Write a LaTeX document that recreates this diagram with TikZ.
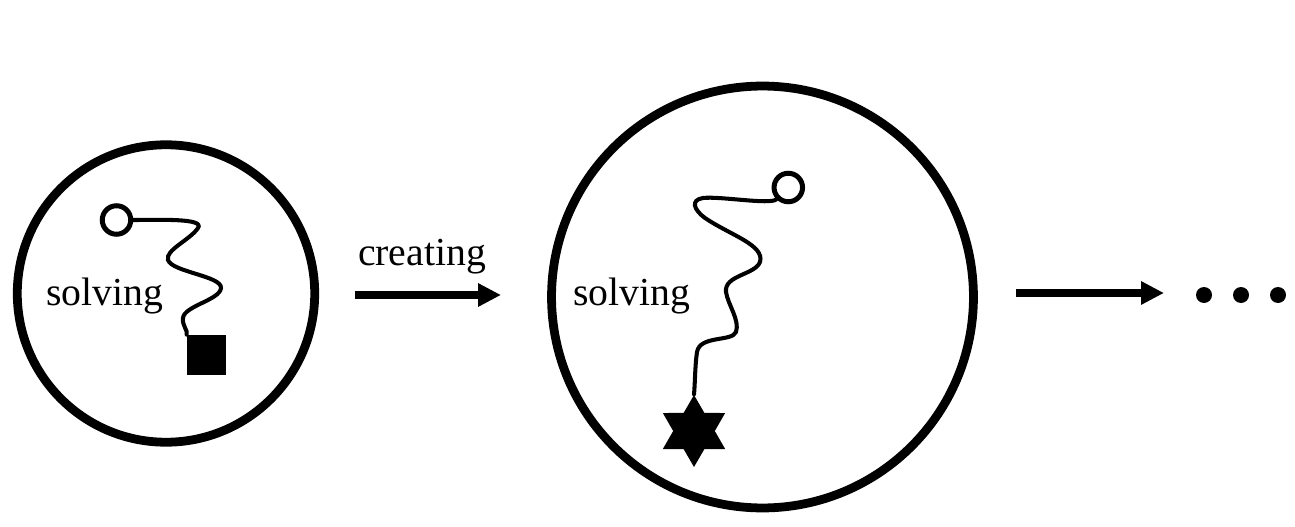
\documentclass[tikz,border=0pt]{standalone}
\usepackage{fontspec}
\setmainfont{Liberation Serif}
\usetikzlibrary{arrows.meta,shapes.geometric}
\begin{document}
\begin{tikzpicture}[x=0.02cm,y=-0.02cm,
  bigcirc/.style={draw,line width=5pt,circle,inner sep=0pt},
  lbl/.style={font=\fontsize{22.6pt}{26pt}\selectfont,anchor=base,inner sep=0pt},
  wire/.style={line width=2.3pt,line cap=round},
  ring/.style={draw,line width=2.85pt,circle,inner sep=0pt,minimum size=0.57cm},
  bigarrow/.style={line width=4.5pt,-{Triangle[length=13pt,width=12.5pt]}},
  dot/.style={fill,circle,inner sep=0pt,minimum size=0.32cm}]
\useasboundingbox (0,0) rectangle (1295,527);
\node[bigcirc,minimum size=5.95cm] (c1) at (166,293.5) {};
\node[bigcirc,minimum size=8.44cm] (c2) at (762.5,297) {};
\node[lbl] (s1) at (104.5,305) {solving};
\node[lbl] (s2) at (632,305) {solving};
\node[lbl] (cr) at (422,265) {creating};
% left squiggle
\node[ring] (r1) at (116.5,220) {};
\node[fill,minimum width=0.78cm,minimum height=0.8cm,inner sep=0pt] (sq) at (206.5,355) {};
\draw[wire] (r1.east) .. controls (160,220) and (205,218) .. (198,228)
  .. controls (190,240) and (165,250) .. (168,260)
  .. controls (172,272) and (222,276) .. (221,288)
  .. controls (220,300) and (184,306) .. (183,318)
  .. controls (182,326) and (188,330) .. (sq.north west);
% right squiggle
\node[ring] (r2) at (788.3,187.5) {};
\node[fill,star,star points=6,star point ratio=1.73,minimum size=1.44cm,inner sep=0pt] (st) at (694,431) {};
\draw[wire] (r2.south west) .. controls (770,205) and (720,196) .. (703,198)
  .. controls (690,200) and (694,210) .. (705,218)
  .. controls (730,235) and (765,245) .. (760,262)
  .. controls (755,275) and (724,275) .. (726,292)
  .. controls (728,305) and (740,320) .. (736,332)
  .. controls (732,342) and (700,335) .. (697,352)
  .. controls (695,365) and (695,385) .. (st.north);
% arrows
\coordinate (a1s) at (355,295);
\coordinate (a1e) at (501,295);
\coordinate (a2s) at (1016,293);
\coordinate (a2e) at (1164,293);
\draw[bigarrow] (a1s) -- (a1e);
\draw[bigarrow] (a2s) -- (a2e);
\node[dot] (d1) at (1204,295) {};
\node[dot] (d2) at (1241,295) {};
\node[dot] (d3) at (1278,295) {};
\end{tikzpicture}
\end{document}
